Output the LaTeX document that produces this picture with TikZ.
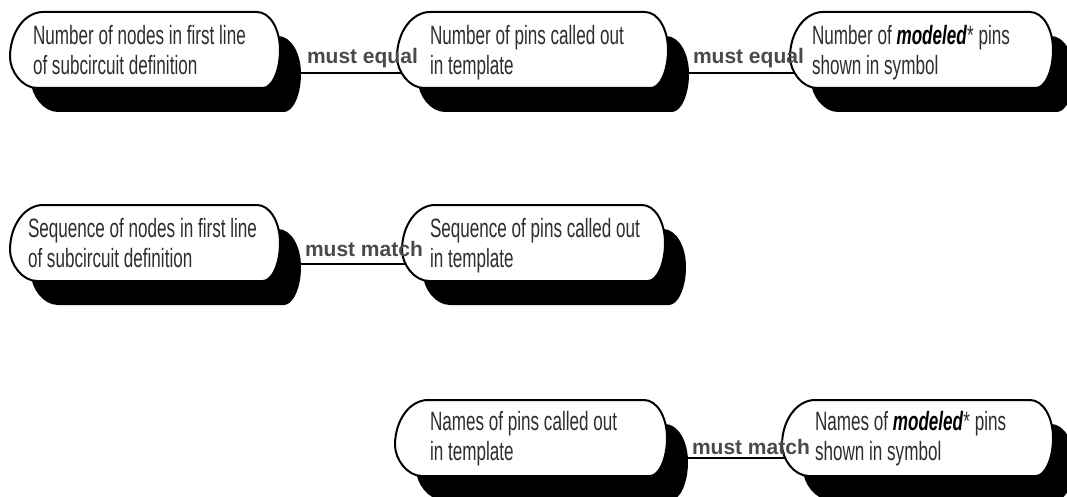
\documentclass[tikz,border=0pt]{standalone}
\usepackage{fontspec}
\setmainfont{Liberation Sans}
\newfontfamily\narrowfont[FakeStretch=0.645]{Liberation Sans}
\usetikzlibrary{calc}
\definecolor{textgray}{HTML}{2E2E2E}
\definecolor{lblgray}{HTML}{4A4A4A}
\tikzset{
  holder/.style={draw=none, rectangle, minimum height=76pt, inner sep=0pt, outer sep=0pt},
  boxtext/.style={anchor=north west, inner sep=0pt, outer sep=0pt, align=left,
    font=\narrowfont\fontsize{26.5}{30}\selectfont, text=textgray},
  lbl/.style={anchor=base west, inner sep=0pt, outer sep=0pt,
    font=\bfseries\fontsize{21}{24}\selectfont, text=lblgray},
  conn/.style={line width=1.6pt, draw=black},
  pillfill/.style={fill=white, draw=black, line width=2pt, line join=round},
  shadowfill/.style={fill=black},
}
\newcommand\drawpill[3]{%
  \begin{scope}[shift={(#1.north west)}]
    \path[#3] (33,0) -- ({#2-23},0)
      .. controls ({#2-10},0) and (#2,17) .. (#2,38)
      .. controls (#2,59) and ({#2-8},76) .. ({#2-17},76)
      -- (27,76)
      .. controls (12,76) and (0,59) .. (0,45)
      .. controls (0,20) and (15,0) .. (33,0) -- cycle;
  \end{scope}}
\begin{document}
\begin{tikzpicture}[x=1pt,y=-1pt]
\useasboundingbox (0,0) rectangle (1067,497);
% holders
\node[holder, minimum width=270pt] (b1) at (145,50) {};
\node[holder, minimum width=270pt] (s1) at (166,74) {};
\node[holder, minimum width=271pt] (b2) at (532.5,50) {};
\node[holder, minimum width=271pt] (s2) at (553.5,74) {};
\node[holder, minimum width=263pt] (b3) at (921.5,50) {};
\node[holder, minimum width=263pt] (s3) at (942.5,74) {};
\node[holder, minimum width=270pt] (b4) at (145,243) {};
\node[holder, minimum width=270pt] (s4) at (166,267) {};
\node[holder, minimum width=263pt] (b5) at (533.5,243) {};
\node[holder, minimum width=263pt] (s5) at (554.5,267) {};
\node[holder, minimum width=272pt] (b6) at (531,438) {};
\node[holder, minimum width=272pt] (s6) at (552,462) {};
\node[holder, minimum width=271pt] (b7) at (917.5,438) {};
\node[holder, minimum width=271pt] (s7) at (938.5,462) {};
% connectors
\coordinate (c1) at ($(s1.east)+(0,-1)$);
\coordinate (c2) at ($(s2.east)+(0,-1)$);
\coordinate (c4) at ($(s4.east)+(0,-3)$);
\coordinate (c6) at ($(s6.east)+(0,-4)$);
\draw[conn] (c1) -- (c1 -| b2.center);
\draw[conn] (c2) -- (c2 -| b3.center);
\draw[conn] (c4) -- (c4 -| b5.center);
\draw[conn] (c6) -- (c6 -| b7.center);
% shadows
\drawpill{s1}{270}{shadowfill}
\drawpill{s2}{271}{shadowfill}
\drawpill{s3}{263}{shadowfill}
\drawpill{s4}{270}{shadowfill}
\drawpill{s5}{263}{shadowfill}
\drawpill{s6}{272}{shadowfill}
\drawpill{s7}{271}{shadowfill}
% boxes
\drawpill{b1}{270}{pillfill}
\drawpill{b2}{271}{pillfill}
\drawpill{b3}{263}{pillfill}
\drawpill{b4}{270}{pillfill}
\drawpill{b5}{263}{pillfill}
\drawpill{b6}{272}{pillfill}
\drawpill{b7}{271}{pillfill}
% texts
\node[boxtext] (t1) at (33,24) {\strut Number of nodes in first line\\of subcircuit definition};
\node[boxtext] (t2) at (430,24) {\strut Number of pins called out\\in template};
\node[boxtext] (t3) at (812,24) {\strut Number of \textcolor{black}{\textbf{\textit{modeled}}}* pins\\shown in symbol};
\node[boxtext] (t4) at (28,216) {\strut Sequence of nodes in first line\\of subcircuit definition};
\node[boxtext] (t5) at (430,216) {\strut Sequence of pins called out\\in template};
\node[boxtext] (t6) at (430,409) {\strut Names of pins called out\\in template};
\node[boxtext] (t7) at (815,409) {\strut Names of \textcolor{black}{\textbf{\textit{modeled}}}* pins\\shown in symbol};
% labels
\node[lbl] (l1) at (307,64) {must equal};
\node[lbl] (l2) at (693,64) {must equal};
\node[lbl] (l3) at (305,256) {must match};
\node[lbl] (l4) at (692,454) {must match};
\end{tikzpicture}
\end{document}
